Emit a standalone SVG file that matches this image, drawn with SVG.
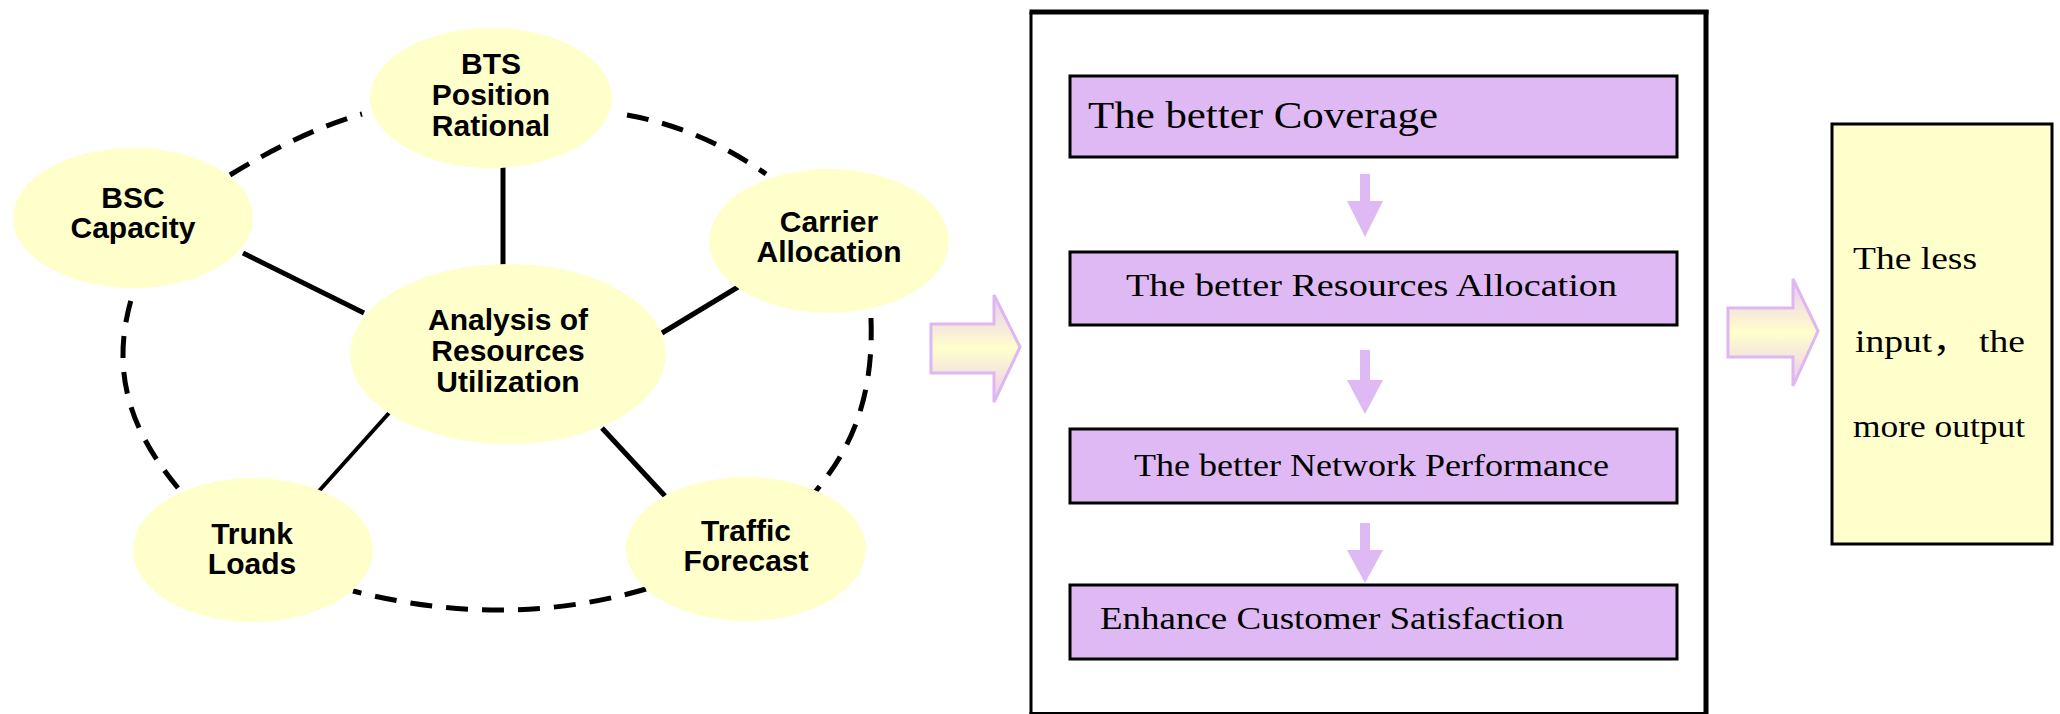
<svg xmlns="http://www.w3.org/2000/svg" width="2060" height="714" viewBox="0 0 2060 714">
<defs>
<linearGradient id="ag" x1="0" y1="0" x2="0" y2="1">
<stop offset="0" stop-color="#E9C9F2"/>
<stop offset="0.5" stop-color="#FFFFCC"/>
<stop offset="1" stop-color="#E9C9F2"/>
</linearGradient>
<style>
.node{fill:#FFFFCC;stroke:none}
.nt{font-family:"Liberation Sans",Arial,sans-serif;font-weight:bold;font-size:30px;fill:#000;text-anchor:middle}
.solid{stroke:#000;stroke-width:5;fill:none}
.dash{stroke:#000;stroke-width:5;fill:none;stroke-dasharray:22 14}
.pbox{fill:#DFB9F3;stroke:#000;stroke-width:3}
.bt{font-family:"Liberation Serif","Times New Roman","Noto Sans CJK SC",serif;fill:#000}
.darrow{fill:#DFB9F3}
.barrow{fill:url(#ag);stroke:#DDB6F2;stroke-width:3}
</style>
</defs>
<rect width="2060" height="714" fill="#fff"/>

<g id="connectors">
<line class="solid" x1="503" y1="166" x2="503" y2="266"/>
<line class="solid" x1="243" y1="253" x2="364" y2="313"/>
<line class="solid" x1="662" y1="333" x2="738" y2="287"/>
<line class="solid" style="stroke-width:4" x1="389" y1="413" x2="319" y2="491"/>
<line class="solid" x1="602" y1="428" x2="665" y2="496"/>
<path class="dash" d="M230 175 Q300 132 362 114"/>
<path class="dash" d="M627 115 Q700 128 766 174"/>
<path class="dash" d="M871 318 C874 400 850 450 815 492"/>
<path class="dash" d="M646 589 Q505 630 353 591"/>
<path class="dash" d="M178 488 C130 430 108 370 134 290"/>
</g>

<g id="n-bts">
<ellipse class="node" cx="491" cy="98" rx="121" ry="70"/>
<text class="nt" x="491" y="74">BTS</text>
<text class="nt" x="491" y="105">Position</text>
<text class="nt" x="491" y="136">Rational</text>
</g>
<g id="n-bsc">
<ellipse class="node" cx="133" cy="218" rx="120" ry="70"/>
<text class="nt" x="133" y="208">BSC</text>
<text class="nt" x="133" y="238">Capacity</text>
</g>
<g id="n-carrier">
<ellipse class="node" cx="829" cy="241" rx="120" ry="72"/>
<text class="nt" x="829" y="232">Carrier</text>
<text class="nt" x="829" y="262">Allocation</text>
</g>
<g id="n-center">
<ellipse class="node" cx="508" cy="354" rx="158" ry="90"/>
<text class="nt" x="508" y="330">Analysis of</text>
<text class="nt" x="508" y="361">Resources</text>
<text class="nt" x="508" y="392">Utilization</text>
</g>
<g id="n-trunk">
<ellipse class="node" cx="253" cy="550" rx="120" ry="72"/>
<text class="nt" x="252" y="544">Trunk</text>
<text class="nt" x="252" y="574">Loads</text>
</g>
<g id="n-traffic">
<ellipse class="node" cx="746" cy="549" rx="120" ry="72"/>
<text class="nt" x="746" y="541">Traffic</text>
<text class="nt" x="746" y="571">Forecast</text>
</g>

<g id="arrow1">
<path class="barrow" d="M931 324 H994 V295 L1020 347 L994 402 V373 H931 Z"/>
</g>

<g id="frame">
<line x1="1031" y1="12" x2="1031" y2="714" stroke="#000" stroke-width="3"/>
<line x1="1029.5" y1="12" x2="1708.5" y2="12" stroke="#000" stroke-width="5"/>
<line x1="1706" y1="10" x2="1706" y2="714" stroke="#000" stroke-width="5"/>
<line x1="1029.5" y1="713" x2="1708" y2="713" stroke="#000" stroke-width="2"/>
</g>

<g id="b1">
<rect class="pbox" x="1070" y="76" width="607" height="81"/>
<text class="bt" x="1088" y="128" font-size="37" textLength="350" lengthAdjust="spacingAndGlyphs">The better Coverage</text>
</g>
<g id="b2">
<rect class="pbox" x="1070" y="252" width="607" height="73"/>
<text class="bt" x="1126" y="296" font-size="32" textLength="491" lengthAdjust="spacingAndGlyphs">The better Resources Allocation</text>
</g>
<g id="b3">
<rect class="pbox" x="1070" y="429" width="607" height="74"/>
<text class="bt" x="1134" y="476" font-size="32" textLength="475" lengthAdjust="spacingAndGlyphs">The better Network Performance</text>
</g>
<g id="b4">
<rect class="pbox" x="1070" y="585" width="607" height="74"/>
<text class="bt" x="1100" y="629" font-size="32" textLength="464" lengthAdjust="spacingAndGlyphs">Enhance Customer Satisfaction</text>
</g>

<g id="down-arrows">
<path class="darrow" d="M1360 174 H1370 V201 H1383 L1365 237 L1347 201 H1360 Z"/>
<path class="darrow" d="M1360 350 H1370 V380 H1383 L1365 414 L1347 380 H1360 Z"/>
<path class="darrow" d="M1360 523 H1370 V550 H1383 L1365 583 L1347 550 H1360 Z"/>
</g>

<g id="arrow2">
<path class="barrow" d="M1728 308 H1793 V279 L1818 331 L1793 386 V357 H1728 Z"/>
</g>

<g id="result">
<rect x="1832" y="124" width="220" height="420" fill="#FFFFCC" stroke="#000" stroke-width="3"/>
<text class="bt" x="1853" y="269" font-size="31" textLength="124" lengthAdjust="spacingAndGlyphs">The less</text>
<text class="bt" x="1855" y="352" font-size="31" textLength="170" lengthAdjust="spacingAndGlyphs">input， the</text>
<text class="bt" x="1853" y="437" font-size="31" textLength="172" lengthAdjust="spacingAndGlyphs">more output</text>
</g>
</svg>
